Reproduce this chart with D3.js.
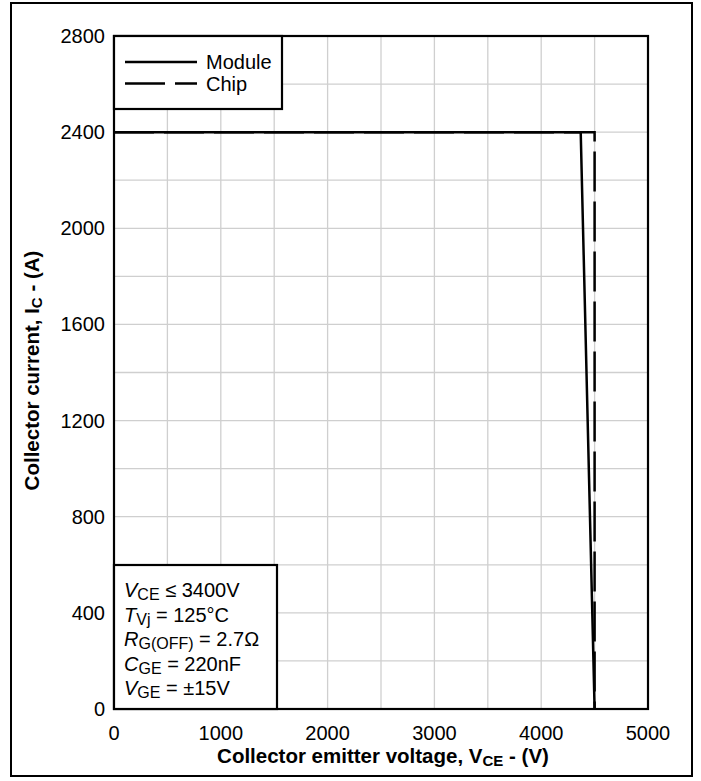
<!DOCTYPE html>
<html>
<head>
<meta charset="utf-8">
<script src="https://cdn.jsdelivr.net/npm/d3@7"></script>
<style>
  body { margin: 0; background: #fff; }
  text { font-family: "Liberation Sans", Arial, sans-serif; fill: #000; }
</style>
</head>
<body>
<div id="chart"></div>
<script>
// series
var moduleV = [0, 4370, 4500];
var moduleI = [2400, 2400, 0];
var chipV = [0, 4500, 4500];
var chipI = [2400, 2400, 0];

var xTicks = [0, 1000, 2000, 3000, 4000, 5000];
var yTicks = [0, 400, 800, 1200, 1600, 2000, 2400, 2800];
var seriesNames = ["Module", "Chip"];
var conditions = [
  ["V", "CE", " \u2264 3400V"],
  ["T", "Vj", " = 125\u00B0C"],
  ["R", "G(OFF)", " = 2.7\u03A9"],
  ["C", "GE", " = 220nF"],
  ["V", "GE", " = \u00B115V"]
];

var width = 701;
var height = 781;
var pLeft = 114, pRight = 648, pTop = 36, pBottom = 709;

var svg = d3.select("#chart").append("svg")
  .attr("width", width)
  .attr("height", height);

// outer frame
svg.append("rect")
  .attr("x", 11).attr("y", 3)
  .attr("width", 681).attr("height", 773)
  .attr("fill", "none").attr("stroke", "#000").attr("stroke-width", 2);

var x = d3.scaleLinear().domain([0, 5000]).range([pLeft, pRight]);
var y = d3.scaleLinear().domain([0, 2800]).range([pBottom, pTop]);

// grid
svg.append("g").selectAll("line")
  .data(d3.range(500, 5000, 500))
  .enter().append("line")
  .attr("x1", d => x(d)).attr("x2", d => x(d))
  .attr("y1", pTop).attr("y2", pBottom)
  .attr("stroke", "#cfcfcf").attr("stroke-width", 1.3);

svg.append("g").selectAll("line")
  .data(d3.range(200, 2800, 200))
  .enter().append("line")
  .attr("x1", pLeft).attr("x2", pRight)
  .attr("y1", d => y(d)).attr("y2", d => y(d))
  .attr("stroke", "#cfcfcf").attr("stroke-width", 1.3);

// tick labels
svg.append("g").selectAll("text")
  .data(xTicks)
  .enter().append("text")
  .attr("x", d => x(d)).attr("y", 740)
  .attr("text-anchor", "middle")
  .style("font-size", "20px")
  .text(d => d);

svg.append("g").selectAll("text")
  .data(yTicks)
  .enter().append("text")
  .attr("x", 105).attr("y", d => y(d) + 7)
  .attr("text-anchor", "end")
  .style("font-size", "20px")
  .text(d => d);

// axis titles
var xt = svg.append("text")
  .attr("x", (pLeft + pRight) / 2 + 2).attr("y", 763)
  .attr("text-anchor", "middle")
  .style("font-size", "20.5px").style("font-weight", "bold");
xt.append("tspan").text("Collector emitter voltage, V");
xt.append("tspan").attr("dy", 3).style("font-size", "15px").text("CE");
xt.append("tspan").attr("dy", -3).text(" - (V)");

var yt = svg.append("text")
  .attr("transform", "translate(39," + ((pTop + pBottom) / 2 - 2) + ") rotate(-90)")
  .attr("text-anchor", "middle")
  .style("font-size", "20.5px").style("font-weight", "bold");
yt.append("tspan").text("Collector current, I");
yt.append("tspan").attr("dy", 3).style("font-size", "15px").text("C");
yt.append("tspan").attr("dy", -3).text(" - (A)");

// curves
var line = d3.line().x(d => x(d[0])).y(d => y(d[1]));
var moduleData = d3.zip(moduleV, moduleI);
var chipData = d3.zip(chipV, chipI);

svg.append("path")
  .attr("d", line(chipData))
  .attr("fill", "none").attr("stroke", "#000")
  .attr("stroke-width", 2.5)
  .attr("stroke-dasharray", "40,10");

svg.append("path")
  .attr("d", line(moduleData))
  .attr("fill", "none").attr("stroke", "#000")
  .attr("stroke-width", 2.5);

// plot border
svg.append("rect")
  .attr("x", pLeft).attr("y", pTop)
  .attr("width", pRight - pLeft).attr("height", pBottom - pTop)
  .attr("fill", "none").attr("stroke", "#000").attr("stroke-width", 2.2);

// legend
var lg = svg.append("g");
lg.append("rect")
  .attr("x", pLeft).attr("y", pTop)
  .attr("width", 168).attr("height", 73)
  .attr("fill", "#fff").attr("stroke", "#000").attr("stroke-width", 2.2);
seriesNames.forEach(function (name, i) {
  var ly = 62 + i * 21.5;
  lg.append("line")
    .attr("x1", 125).attr("x2", 197)
    .attr("y1", ly).attr("y2", ly)
    .attr("stroke", "#000").attr("stroke-width", 2.5)
    .attr("stroke-dasharray", i === 1 ? "40,10" : null);
  lg.append("text")
    .attr("x", 206).attr("y", ly + 7)
    .style("font-size", "20px")
    .text(name);
});

// conditions box
var cb = svg.append("g");
cb.append("rect")
  .attr("x", pLeft).attr("y", 565)
  .attr("width", 163).attr("height", pBottom - 565)
  .attr("fill", "#fff").attr("stroke", "#000").attr("stroke-width", 2.2);
conditions.forEach(function (c, i) {
  var t = cb.append("text")
    .attr("x", 124).attr("y", 597 + i * 24.5)
    .style("font-size", "20px");
  t.append("tspan").style("font-style", "italic").text(c[0]);
  t.append("tspan").attr("dy", 3).style("font-size", "16px").text(c[1]);
  t.append("tspan").attr("dy", -3).text(c[2]);
});
</script>
</body>
</html>
